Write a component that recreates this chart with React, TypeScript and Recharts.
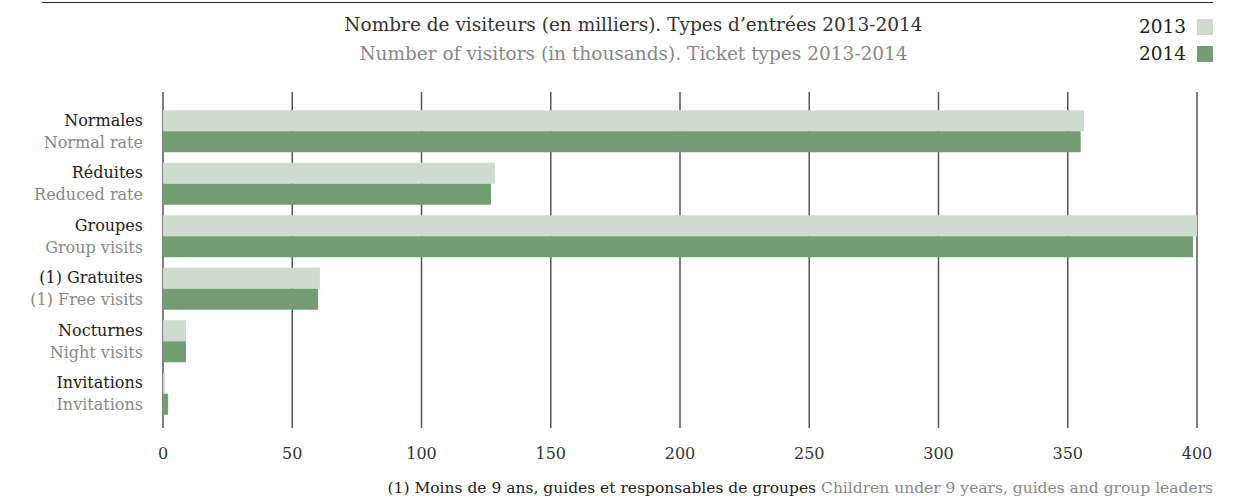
import { BarChart, Bar, XAxis, YAxis, CartesianGrid } from 'recharts';

const categoriesFr = ['Normales', 'Réduites', 'Groupes', '(1) Gratuites', 'Nocturnes', 'Invitations'];
const categoriesEn = ['Normal rate', 'Reduced rate', 'Group visits', '(1) Free visits', 'Night visits', 'Invitations'];
const values2013 = [356.3, 128.4, 400, 60.7, 8.9, 0.8];
const values2014 = [355, 126.9, 398.5, 60, 8.9, 2];
const xTicks = [0, 50, 100, 150, 200, 250, 300, 350, 400];

const data = categoriesFr.map((fr, i) => ({
  fr,
  en: categoriesEn[i],
  v2013: values2013[i],
  v2014: values2014[i],
}));

const FONT = '"DejaVu Serif", serif';
const LIGHT = '#cddccf';
const DARK = '#739e74';

function CategoryTick({ x, y, payload }: any) {
  const row = data.find((d) => d.fr === payload.value);
  return (
    <g>
      <text x={x} y={y - 11} dy="0.35em" textAnchor="end" fontSize={16} fill="#222" fontFamily={FONT}>
        {payload.value}
      </text>
      <text x={x} y={y + 11} dy="0.35em" textAnchor="end" fontSize={16} fill="#888" fontFamily={FONT}>
        {row ? row.en : ''}
      </text>
    </g>
  );
}

export default function App() {
  return (
    <div style={{ position: 'absolute', left: 0, top: 0, width: 1249, height: 498, fontFamily: FONT }}>
      <div style={{ position: 'absolute', left: 42, top: 2, width: 1171, height: 0, borderTop: '1.5px solid #222' }} />
      <div style={{ position: 'absolute', left: 0, width: 1267, top: 14, textAlign: 'center', fontSize: 18.5, color: '#333', lineHeight: '22px' }}>
        Nombre de visiteurs (en milliers). Types d’entrées 2013-2014
      </div>
      <div style={{ position: 'absolute', left: 0, width: 1267, top: 43, textAlign: 'center', fontSize: 18.5, color: '#888', lineHeight: '22px' }}>
        Number of visitors (in thousands). Ticket types 2013-2014
      </div>
      <div style={{ position: 'absolute', right: 36, top: 16, fontSize: 18.5, color: '#222', lineHeight: '22px', textAlign: 'right' }}>
        <div style={{ display: 'flex', alignItems: 'center', justifyContent: 'flex-end' }}>
          2013<span style={{ display: 'inline-block', width: 16, height: 16, background: LIGHT, marginLeft: 11 }} />
        </div>
        <div style={{ display: 'flex', alignItems: 'center', justifyContent: 'flex-end', marginTop: 5 }}>
          2014<span style={{ display: 'inline-block', width: 16, height: 16, background: DARK, marginLeft: 11 }} />
        </div>
      </div>
      <BarChart
        width={1249}
        height={498}
        data={data}
        layout="vertical"
        margin={{ top: 92, right: 52, bottom: 40, left: 3 }}
        barCategoryGap="10%"
        barGap={0}
      >
        <CartesianGrid horizontal={false} stroke="#555" strokeWidth={1.5} />
        <XAxis
          type="number"
          domain={[0, 400]}
          ticks={xTicks}
          axisLine={false}
          tickLine={false}
          tickMargin={14}
          height={30}
          tick={{ fontSize: 16, fill: '#333', fontFamily: FONT }}
        />
        <YAxis
          type="category"
          dataKey="fr"
          width={160}
          axisLine={false}
          tickLine={false}
          tickSize={0}
          tickMargin={20}
          padding={{ top: 13, bottom: 8 }}
          tick={<CategoryTick />}
          interval={0}
        />
        <Bar dataKey="v2013" fill={LIGHT} isAnimationActive={false} />
        <Bar dataKey="v2014" fill={DARK} isAnimationActive={false} />
      </BarChart>
      <div style={{ position: 'absolute', right: 36, top: 478, fontSize: 15.5, lineHeight: '20px', whiteSpace: 'nowrap' }}>
        <span style={{ color: '#222' }}>(1) Moins de 9 ans, guides et responsables de groupes</span>
        <span style={{ color: '#888' }}>{'  '}Children under 9 years, guides and group leaders</span>
      </div>
    </div>
  );
}
